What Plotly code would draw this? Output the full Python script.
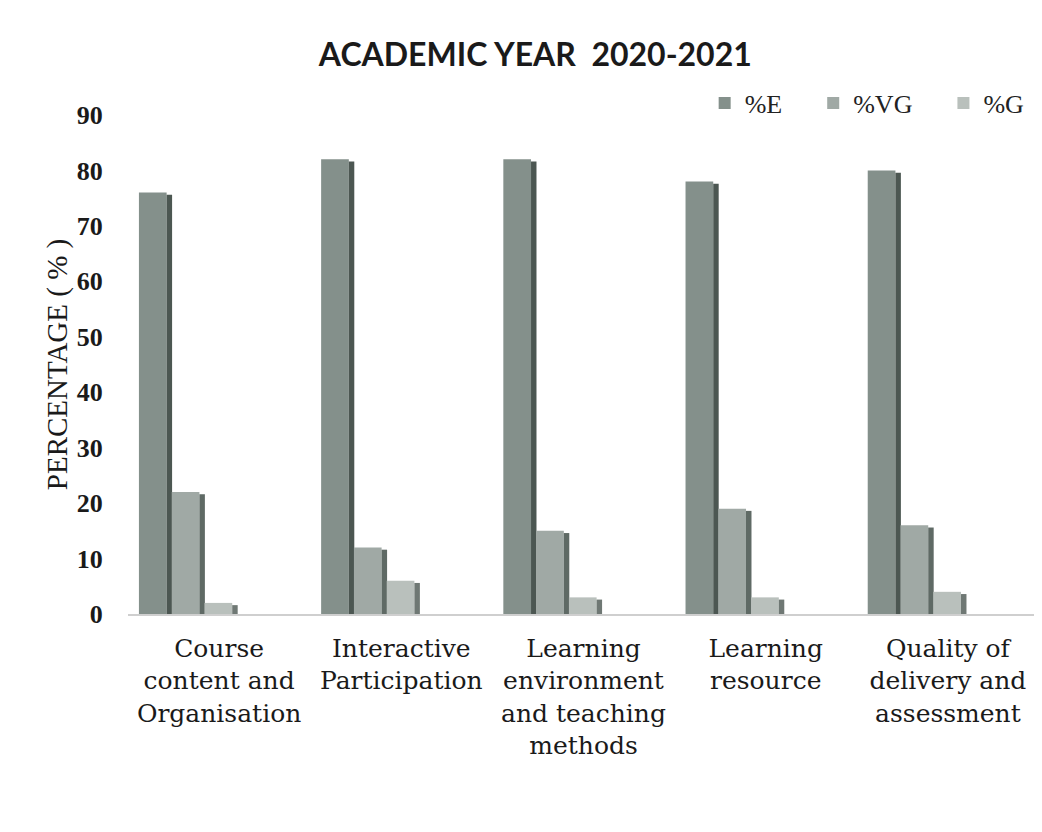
import plotly.graph_objects as go

categories = [
    "Course<br>content and<br>Organisation",
    "Interactive<br>Participation",
    "Learning<br>environment<br>and teaching<br>methods",
    "Learning<br>resource",
    "Quality of<br>delivery and<br>assessment",
]
series_names = ["%E", "%VG", "%G"]
pct_E = [76, 82, 82, 78, 80]
pct_VG = [22, 12, 15, 19, 16]
pct_G = [2, 6, 3, 3, 4]
y_ticks = [0, 10, 20, 30, 40, 50, 60, 70, 80, 90]

values = [pct_E, pct_VG, pct_G]
front_colors = ["#84908b", "#a0a9a5", "#b9c0bc"]
side_colors = ["#4c5752", "#5f6a65", "#6f7874"]
legend_pad = ["\u00a0\u00a0\u00a0\u00a0", "\u00a0\u00a0\u00a0\u00a0", ""]

x_idx = list(range(len(categories)))
fig = go.Figure()

start = -0.44
pitch = 0.18
front_w = 0.152
side_w = 0.03

for j, (name, vals) in enumerate(zip(series_names, values)):
    off = start + j * pitch
    fig.add_trace(go.Bar(
        x=x_idx, y=vals, name=name + legend_pad[j], offset=off, width=front_w,
        marker=dict(color=front_colors[j], line=dict(width=0)),
        hovertemplate=name + ": %{y}<extra></extra>",
    ))
    fig.add_trace(go.Bar(
        x=x_idx, y=[v - 0.4 if v > 1 else v for v in vals], name=name + " side",
        offset=off + front_w, width=side_w, showlegend=False,
        marker=dict(color=side_colors[j], line=dict(width=0)),
        hoverinfo="skip",
    ))

fig.update_layout(
    width=1034, height=824,
    barmode="overlay",
    paper_bgcolor="white", plot_bgcolor="white",
    margin=dict(l=120, r=3, t=107, b=218),
    title=dict(text="<b>ACADEMIC YEAR  2020-2021</b>", x=0.51, xanchor="center",
               y=0.943, yanchor="middle",
               font=dict(family="Lato", size=32, color="#1a1a1a")),
    legend=dict(orientation="h", x=0.633, xanchor="left", y=1.024, yanchor="middle",
                font=dict(family="Liberation Serif", size=26, color="#222"),
                bgcolor="rgba(0,0,0,0)", traceorder="normal"),
    showlegend=True,
)
fig.update_xaxes(
    range=[-0.5, 4.5],
    tickmode="array", tickvals=x_idx, ticktext=categories,
    tickfont=dict(family="DejaVu Serif", size=25, color="#1a1a1a"),
    showgrid=False, zeroline=False,
    showline=True, linecolor="#cfcfcf", linewidth=1.5,
    ticks="outside", ticklen=11, tickcolor="rgba(0,0,0,0)",
)
fig.update_yaxes(
    range=[0, 90], tickmode="array", tickvals=y_ticks,
    tickfont=dict(family="Liberation Serif", size=26, color="#1a1a1a", weight="bold"),
    showgrid=False, zeroline=False, showline=False,
    ticks="outside", ticklen=19, tickcolor="rgba(0,0,0,0)",
    title=dict(text="PERCENTAGE ( % )", standoff=0,
               font=dict(family="Liberation Serif", size=29, color="#1a1a1a")),
)

fig.write_html("out.html")
